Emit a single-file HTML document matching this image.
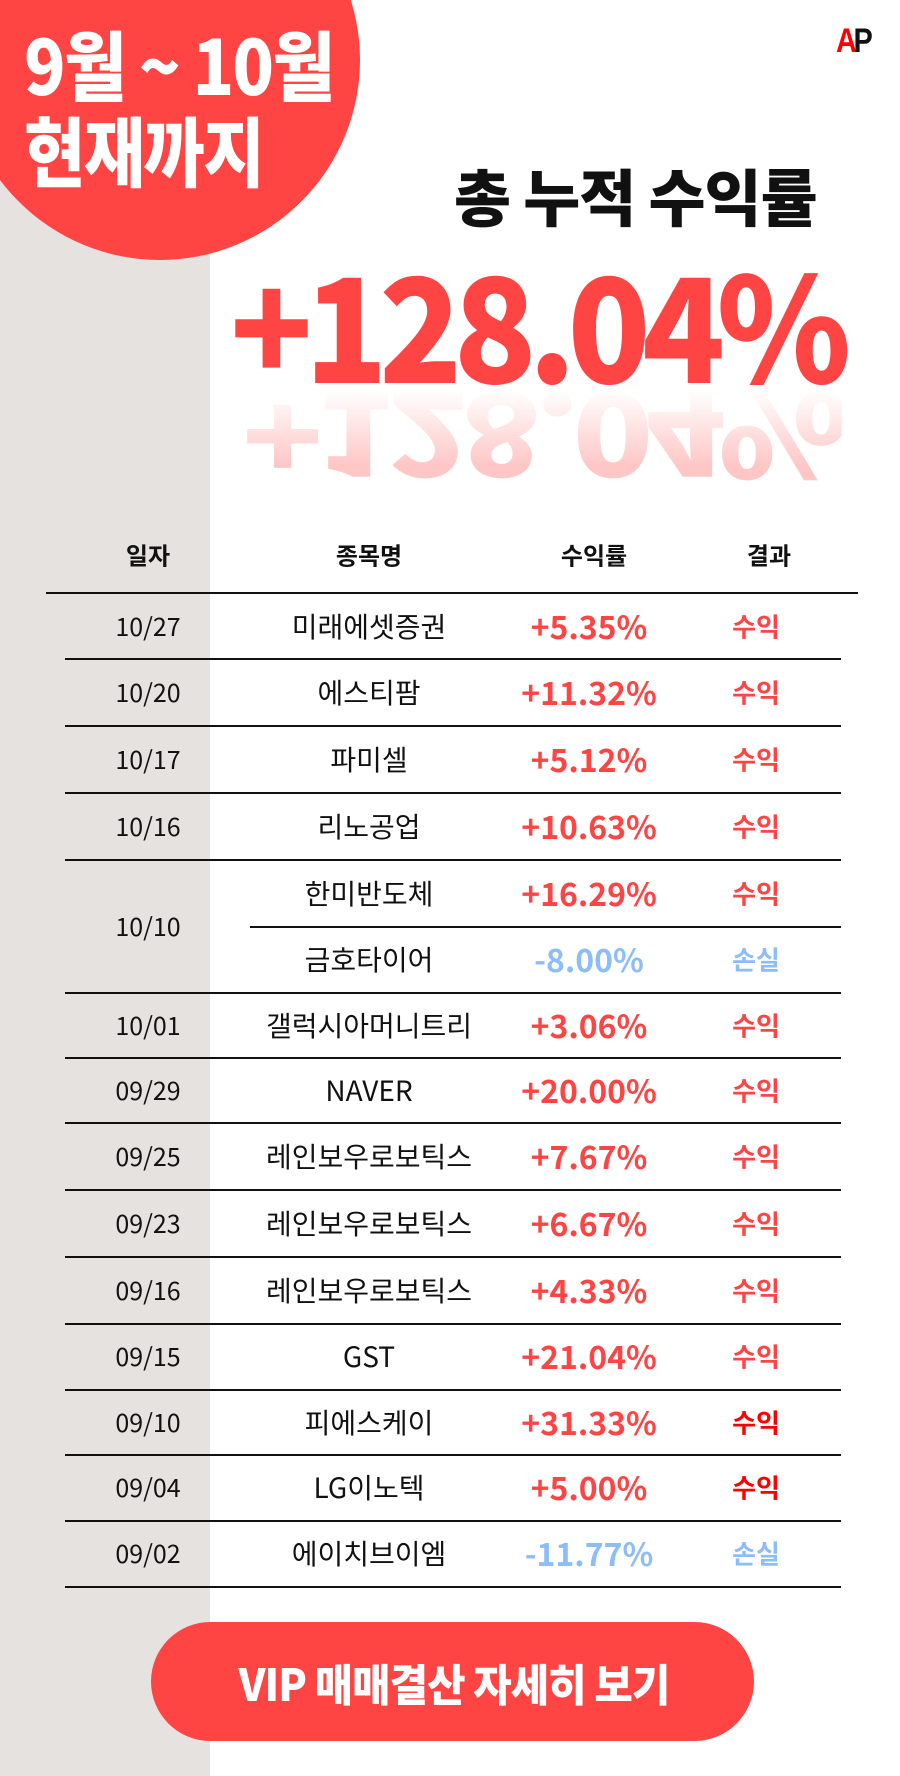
<!DOCTYPE html>
<html><head><meta charset="utf-8"><style>
*{margin:0;padding:0;box-sizing:border-box}
body{width:900px;height:1776px;position:relative;overflow:hidden;background:#fff;font-family:"Liberation Sans","Noto Sans CJK KR",sans-serif;color:#111}
.abs{position:absolute}
.strip{left:0;top:0;width:210px;height:1776px;background:#e5e2df}
.circle{left:-40px;top:-140px;width:400px;height:400px;border-radius:50%;background:#ff4444}
.ht{color:#fff;font-family:"Noto Sans CJK KR",sans-serif;font-weight:900;transform-origin:left top;white-space:nowrap}
.c{position:absolute;text-align:center;white-space:nowrap;transform:translate(-50%,-50%)}
.line{position:absolute;height:2px;background:#111}
.d{font-size:25px;font-family:"Noto Sans CJK KR",sans-serif}
.n{font-size:28px;font-family:"Noto Sans CJK KR",sans-serif}
.p{font-size:32px;font-weight:bold;color:#ff4444;font-family:"Noto Sans CJK KR",sans-serif}
.r{font-size:26px;font-weight:bold;color:#ff4444;font-family:"Noto Sans CJK KR",sans-serif}
.b{color:#8dbdf7}
.h{font-size:24px;font-weight:bold;font-family:"Noto Sans CJK KR",sans-serif}
.big{font-size:145px;font-weight:900;color:#ff4444;font-family:'Noto Sans CJK KR',sans-serif;line-height:1;height:145px;white-space:nowrap;letter-spacing:-9px;transform-origin:left center}
</style></head><body>
<div class="abs strip"></div>
<div class="abs circle"></div>
<div class="abs ht" style="left:24px;top:24px;font-size:76px;line-height:1;transform:scaleX(0.9);letter-spacing:-2px">9월 ~ 10월</div>
<div class="abs ht" style="left:24px;top:110px;font-size:76px;line-height:1;transform:scaleX(0.88);letter-spacing:-2px">현재까지</div>
<div class="abs" style="left:836px;top:22px;font-size:34px;font-weight:900;letter-spacing:-4px;font-family:'Liberation Sans',sans-serif;transform:scaleX(0.85);transform-origin:left top"><span style="color:#f00">A</span><span style="color:#111">P</span></div>
<div class="abs" style="left:454px;top:160px;font-size:62px;font-weight:900;font-family:'Noto Sans CJK KR',sans-serif;line-height:1.1;white-space:nowrap;letter-spacing:-1px">총 누적 수익률</div>
<div class="abs big" style="left:230px;top:248px;transform:scaleX(0.94)">+128.04%</div>
<div class="abs big" style="left:242px;top:370px;transform:scale(0.92,-0.8);opacity:0.3;-webkit-mask-image:linear-gradient(to bottom,#000 30%,transparent 95%);mask-image:linear-gradient(to bottom,#000 30%,transparent 95%)">+128.04%</div>

<div class="c h" style="left:148px;top:554px">일자</div>
<div class="c h" style="left:369px;top:554px">종목명</div>
<div class="c h" style="left:594px;top:554px">수익률</div>
<div class="c h" style="left:769px;top:554px">결과</div>
<div class="line" style="left:46px;width:812px;top:592px"></div>

<div class="line" style="left:65px;width:776px;top:658px"></div>
<div class="line" style="left:65px;width:776px;top:725px"></div>
<div class="line" style="left:65px;width:776px;top:792px"></div>
<div class="line" style="left:65px;width:776px;top:859px"></div>
<div class="line" style="left:250px;width:591px;top:926px"></div>
<div class="line" style="left:65px;width:776px;top:992px"></div>
<div class="line" style="left:65px;width:776px;top:1057px"></div>
<div class="line" style="left:65px;width:776px;top:1122px"></div>
<div class="line" style="left:65px;width:776px;top:1189px"></div>
<div class="line" style="left:65px;width:776px;top:1256px"></div>
<div class="line" style="left:65px;width:776px;top:1323px"></div>
<div class="line" style="left:65px;width:776px;top:1389px"></div>
<div class="line" style="left:65px;width:776px;top:1454px"></div>
<div class="line" style="left:65px;width:776px;top:1520px"></div>
<div class="line" style="left:65px;width:776px;top:1586px"></div>

<div class="c d" style="left:148px;top:626px">10/27</div><div class="c n" style="left:369px;top:626px">미래에셋증권</div><div class="c p" style="left:589px;top:626px">+5.35%</div><div class="c r" style="left:756px;top:626px">수익</div>
<div class="c d" style="left:148px;top:692px">10/20</div><div class="c n" style="left:369px;top:692px">에스티팜</div><div class="c p" style="left:589px;top:692px">+11.32%</div><div class="c r" style="left:756px;top:692px">수익</div>
<div class="c d" style="left:148px;top:759px">10/17</div><div class="c n" style="left:369px;top:759px">파미셀</div><div class="c p" style="left:589px;top:759px">+5.12%</div><div class="c r" style="left:756px;top:759px">수익</div>
<div class="c d" style="left:148px;top:826px">10/16</div><div class="c n" style="left:369px;top:826px">리노공업</div><div class="c p" style="left:589px;top:826px">+10.63%</div><div class="c r" style="left:756px;top:826px">수익</div>
<div class="c d" style="left:148px;top:926px">10/10</div>
<div class="c n" style="left:369px;top:893px">한미반도체</div><div class="c p" style="left:589px;top:893px">+16.29%</div><div class="c r" style="left:756px;top:893px">수익</div>
<div class="c n" style="left:369px;top:959px">금호타이어</div><div class="c p b" style="left:589px;top:959px">-8.00%</div><div class="c r b" style="left:756px;top:959px">손실</div>
<div class="c d" style="left:148px;top:1025px">10/01</div><div class="c n" style="left:369px;top:1025px">갤럭시아머니트리</div><div class="c p" style="left:589px;top:1025px">+3.06%</div><div class="c r" style="left:756px;top:1025px">수익</div>
<div class="c d" style="left:148px;top:1090px">09/29</div><div class="c n" style="left:369px;top:1090px">NAVER</div><div class="c p" style="left:589px;top:1090px">+20.00%</div><div class="c r" style="left:756px;top:1090px">수익</div>
<div class="c d" style="left:148px;top:1156px">09/25</div><div class="c n" style="left:369px;top:1156px">레인보우로보틱스</div><div class="c p" style="left:589px;top:1156px">+7.67%</div><div class="c r" style="left:756px;top:1156px">수익</div>
<div class="c d" style="left:148px;top:1223px">09/23</div><div class="c n" style="left:369px;top:1223px">레인보우로보틱스</div><div class="c p" style="left:589px;top:1223px">+6.67%</div><div class="c r" style="left:756px;top:1223px">수익</div>
<div class="c d" style="left:148px;top:1290px">09/16</div><div class="c n" style="left:369px;top:1290px">레인보우로보틱스</div><div class="c p" style="left:589px;top:1290px">+4.33%</div><div class="c r" style="left:756px;top:1290px">수익</div>
<div class="c d" style="left:148px;top:1356px">09/15</div><div class="c n" style="left:369px;top:1356px">GST</div><div class="c p" style="left:589px;top:1356px">+21.04%</div><div class="c r" style="left:756px;top:1356px">수익</div>
<div class="c d" style="left:148px;top:1422px">09/10</div><div class="c n" style="left:369px;top:1422px">피에스케이</div><div class="c p" style="left:589px;top:1422px">+31.33%</div><div class="c r" style="left:756px;top:1422px;color:#f00">수익</div>
<div class="c d" style="left:148px;top:1487px">09/04</div><div class="c n" style="left:369px;top:1487px">LG이노텍</div><div class="c p" style="left:589px;top:1487px">+5.00%</div><div class="c r" style="left:756px;top:1487px;color:#f00">수익</div>
<div class="c d" style="left:148px;top:1553px">09/02</div><div class="c n" style="left:369px;top:1553px">에이치브이엠</div><div class="c p b" style="left:589px;top:1553px">-11.77%</div><div class="c r b" style="left:756px;top:1553px">손실</div>

<div class="abs" style="left:151px;top:1622px;width:603px;height:119px;border-radius:60px;background:#ff4444"></div>
<div class="c" style="left:454px;top:1682px;color:#fff;font-size:44px;font-weight:900;font-family:'Noto Sans CJK KR',sans-serif;letter-spacing:-1px"><span style="display:inline-block;transform:scaleX(0.95)">VIP 매매결산 자세히 보기</span></div>
</body></html>
